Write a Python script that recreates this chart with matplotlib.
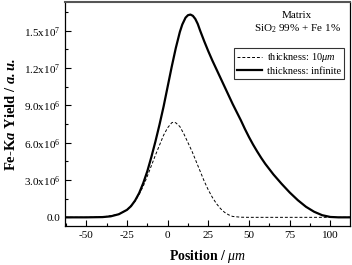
import matplotlib
matplotlib.use("Agg")
import matplotlib.pyplot as plt
from matplotlib.ticker import MultipleLocator

plt.rcParams['font.family'] = 'Liberation Serif'
plt.rcParams['mathtext.fontset'] = 'custom'
plt.rcParams['mathtext.rm'] = 'Liberation Serif'
plt.rcParams['mathtext.it'] = 'Liberation Serif:italic'
plt.rcParams['mathtext.bf'] = 'Liberation Serif:bold'
plt.rcParams['mathtext.bfit'] = 'Liberation Serif:italic:bold'

# infinite thickness curve (position in um, yield in units of 1e6)
pos_inf = [-63, -50, -40, -35, -30, -25, -22.5, -20, -17.5, -15, -12.5, -10, -7.5,
           -5, -2.5, 0, 2.5, 5, 7.5, 9, 11, 12.5, 14, 15.5, 17, 18.5, 20, 22.5,
           25, 27.5, 30, 32.5, 35, 37.5, 40, 42.5, 45, 47.5, 50, 52.5, 55, 57.5,
           60, 65, 70, 75, 80, 85, 90, 95, 100, 105, 112]
yield_inf = [0, 0, 0.02, 0.08, 0.25, 0.6, 0.9, 1.35, 1.95, 2.75, 3.7, 4.85, 6.1,
             7.45, 8.9, 10.5, 12.1, 13.6, 14.9, 15.5, 16.05, 16.25, 16.3, 16.2,
             15.95, 15.55, 15.0, 14.15, 13.35, 12.6, 11.9, 11.2, 10.5, 9.8, 9.1,
             8.45, 7.8, 7.1, 6.45, 5.85, 5.3, 4.78, 4.3, 3.45, 2.7, 2.0, 1.38,
             0.85, 0.45, 0.17, 0.03, 0.0, 0.0]

# 10 um thickness curve
pos_10 = [-63, -50, -40, -30, -25, -20, -17.5, -15, -12.5, -10, -7.5, -5, -2.5,
          0, 2.5, 3.5, 5, 7.5, 10, 12.5, 15, 17.5, 20, 22.5, 25, 27.5, 30, 32.5,
          35, 37.5, 40, 45, 50, 112]
yield_10 = [0, 0, 0.02, 0.25, 0.6, 1.3, 1.85, 2.5, 3.3, 4.15, 5.0, 5.8, 6.6,
            7.2, 7.6, 7.65, 7.6, 7.3, 6.7, 6.0, 5.3, 4.5, 3.7, 2.9, 2.2, 1.6,
            1.1, 0.7, 0.4, 0.2, 0.07, 0.01, 0, 0]

yticks = [0, 3e6, 6e6, 9e6, 1.2e7, 1.5e7]
ylabels = ['0.0', r'3.0x10$^6$', r'6.0x10$^6$', r'9.0x10$^6$',
           r'1.2x10$^7$', r'1.5x10$^7$']
xticks = [-50, -25, 0, 25, 50, 75, 100]

fig = plt.figure(figsize=(3.52, 2.65), dpi=100)
ax = fig.add_axes([0.185, 0.147, 0.809, 0.845])

ax.plot(pos_10, [v * 1e6 for v in yield_10], color='black', lw=0.7,
        ls=(0, (3, 2)), label=r'thickness: 10$\mu m$')
ax.plot(pos_inf, [v * 1e6 for v in yield_inf], color='black', lw=1.6,
        label='thickness: infinite')

ax.set_xlim(-63, 112)
ax.set_ylim(-7e5, 1.73e7)
ax.set_xticks(xticks)
ax.set_xticklabels([str(t) for t in xticks])
ax.set_yticks(yticks)
ax.set_yticklabels(ylabels)
ax.xaxis.set_minor_locator(MultipleLocator(12.5))
ax.yaxis.set_minor_locator(MultipleLocator(1.5e6))
ax.tick_params(which='both', direction='in', labelsize=8, width=0.8)
ax.tick_params(which='major', length=4)
ax.tick_params(which='minor', length=2)
for s in ax.spines.values():
    s.set_linewidth(0.9)
ax.spines['top'].set_color('#555555')
ax.spines['top'].set_linewidth(1.5)

ax.set_xlabel(r'Position / $\mathit{\mu m}$', fontsize=10, fontweight='bold',
              labelpad=6)
ax.set_ylabel(r'Fe-K$\mathbfit{a}$ Yield / $\mathbfit{a.u.}$', fontsize=10.5,
              fontweight='bold')

ax.text(0.815, 0.906, 'Matrix\n' + r'SiO$_2$ 99% + Fe 1%', transform=ax.transAxes,
        ha='center', va='center', fontsize=8, linespacing=1.3)

leg = ax.legend(loc='upper right', bbox_to_anchor=(0.979, 0.795), fontsize=7.5,
                frameon=True, fancybox=False, borderaxespad=0, handlelength=2.4,
                borderpad=0.3, labelspacing=0.2, handletextpad=0.4)
leg.get_frame().set_edgecolor('black')
leg.get_frame().set_linewidth(0.8)

fig.savefig('out.png', dpi=100)
